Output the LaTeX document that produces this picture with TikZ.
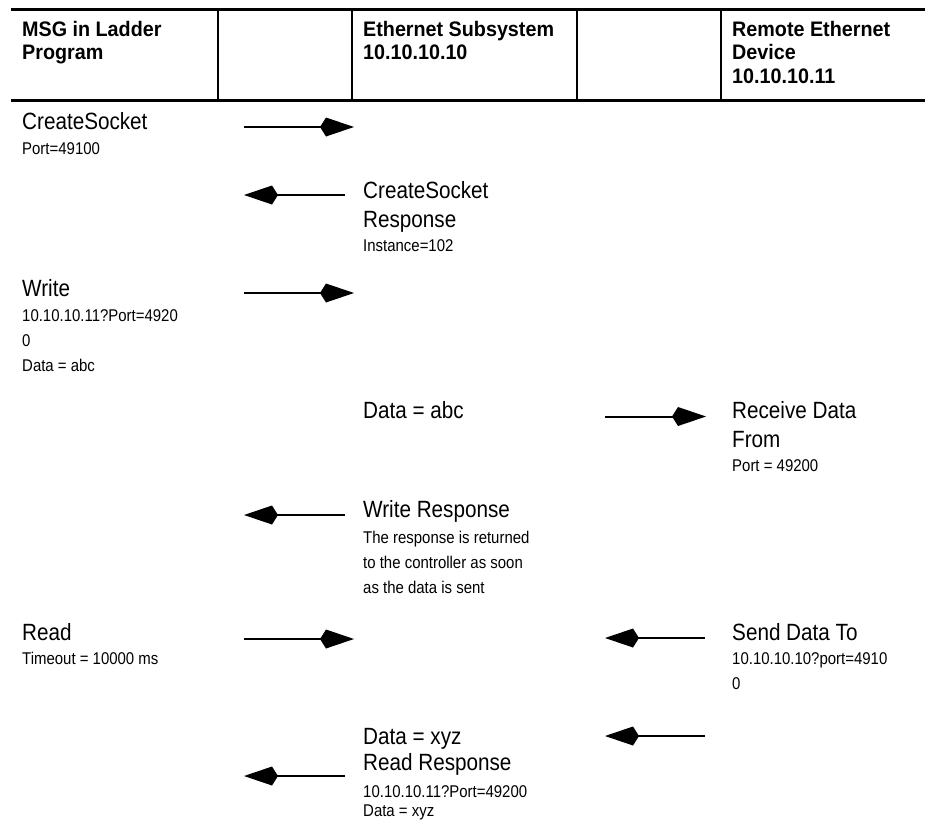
\documentclass[tikz,border=0pt]{standalone}
\usepackage{fontspec}
\setmainfont{Liberation Sans}[FakeStretch=0.88,BoldFeatures={FakeStretch=0.94}]
\usetikzlibrary{arrows.meta}
\newcommand{\msgmain}{\fontsize{23.5}{25}\selectfont}
\newcommand{\msgsmall}{\fontsize{17}{25}\selectfont}
\newcommand{\msghead}{\fontsize{21}{23.5}\selectfont\bfseries}

\begin{document}
\begin{tikzpicture}[x=1pt, y=-1pt,
    msgarrow/.style={line width=2pt, -{Kite[length=34pt,width=19pt,inset=6pt]}},
    lbl/.style={anchor=north west, inner sep=0pt, align=left, font=\msgmain},
    hdr/.style={anchor=north west, inner sep=0pt, align=left, font=\msghead}]
    \useasboundingbox (0,0) rectangle (925,823);
    % header rules and column dividers
    \draw[line width=3pt] (11,9.5) -- (925,9.5);
    \draw[line width=3pt] (11,100) -- (925,100);
    \foreach \x in {218,352,577,721} {
      \draw[line width=2pt] (\x,9.5) -- (\x,100);
    }
    % column heads
    \node[hdr] (hladder) at (22,20.8) {MSG in Ladder\\Program};
    \node[hdr] (hsub) at (363,20.8) {Ethernet Subsystem\\10.10.10.10};
    \node[hdr] (hremote) at (732,20.8) {Remote Ethernet\\Device\\10.10.10.11};
    % ladder program column
    \node[lbl] (lcreate) at (22,112.1) {CreateSocket\\{\msgsmall Port=49100}};
    \node[lbl] (lwrite) at (22,279.1) {Write\\{\msgsmall 10.10.10.11?Port=4920}\\{\msgsmall 0}\\{\msgsmall Data = abc}};
    \node[lbl] (lread) at (22,623.1) {Read\\[-1pt]{\msgsmall Timeout = 10000 ms}};
    % ethernet subsystem column
    \node[lbl] (mcreate) at (363,181.1) {CreateSocket\\[4pt]Response\\[-1pt]{\msgsmall Instance=102}};
    \node[lbl] (mdata) at (363,401.1) {Data = abc};
    \node[lbl] (mwrite) at (363,500.1) {Write Response\\[1pt]{\msgsmall The response is returned}\\{\msgsmall to the controller as soon}\\{\msgsmall as the data is sent}};
    \node[lbl] (mread) at (363,728.1) {Data = xyz\\[1pt]Read Response\\[2pt]{\msgsmall 10.10.10.11?Port=49200}\\[-6pt]{\msgsmall Data = xyz}};
    % remote device column
    \node[lbl] (rrecv) at (732,401.1) {Receive Data\\[4pt]From\\[-1pt]{\msgsmall Port = 49200}};
    \node[lbl] (rsend) at (732,623.1) {Send Data To\\[-1pt]{\msgsmall 10.10.10.10?port=4910}\\{\msgsmall 0}};
    % arrow ends
    \coordinate (csreq-s) at (244,127);   \coordinate (csreq-e) at (354,127);
    \coordinate (csresp-s) at (345,195);  \coordinate (csresp-e) at (244,195);
    \coordinate (wrreq-s) at (244,293);   \coordinate (wrreq-e) at (354,293);
    \coordinate (wrdata-s) at (605,416.5);\coordinate (wrdata-e) at (706,416.5);
    \coordinate (wrresp-s) at (345,515);  \coordinate (wrresp-e) at (244,515);
    \coordinate (rdreq-s) at (244,639);   \coordinate (rdreq-e) at (354,639);
    \coordinate (sddata-s) at (705,638);  \coordinate (sddata-e) at (605,638);
    \coordinate (rddata-s) at (705,736);  \coordinate (rddata-e) at (605,736);
    \coordinate (rdresp-s) at (345,776);  \coordinate (rdresp-e) at (244,776);
    % messages
    \draw[msgarrow] (csreq-s) -- (csreq-e);
    \draw[msgarrow] (csresp-s) -- (csresp-e);
    \draw[msgarrow] (wrreq-s) -- (wrreq-e);
    \draw[msgarrow] (wrdata-s) -- (wrdata-e);
    \draw[msgarrow] (wrresp-s) -- (wrresp-e);
    \draw[msgarrow] (rdreq-s) -- (rdreq-e);
    \draw[msgarrow] (sddata-s) -- (sddata-e);
    \draw[msgarrow] (rddata-s) -- (rddata-e);
    \draw[msgarrow] (rdresp-s) -- (rdresp-e);
\end{tikzpicture}
\end{document}
